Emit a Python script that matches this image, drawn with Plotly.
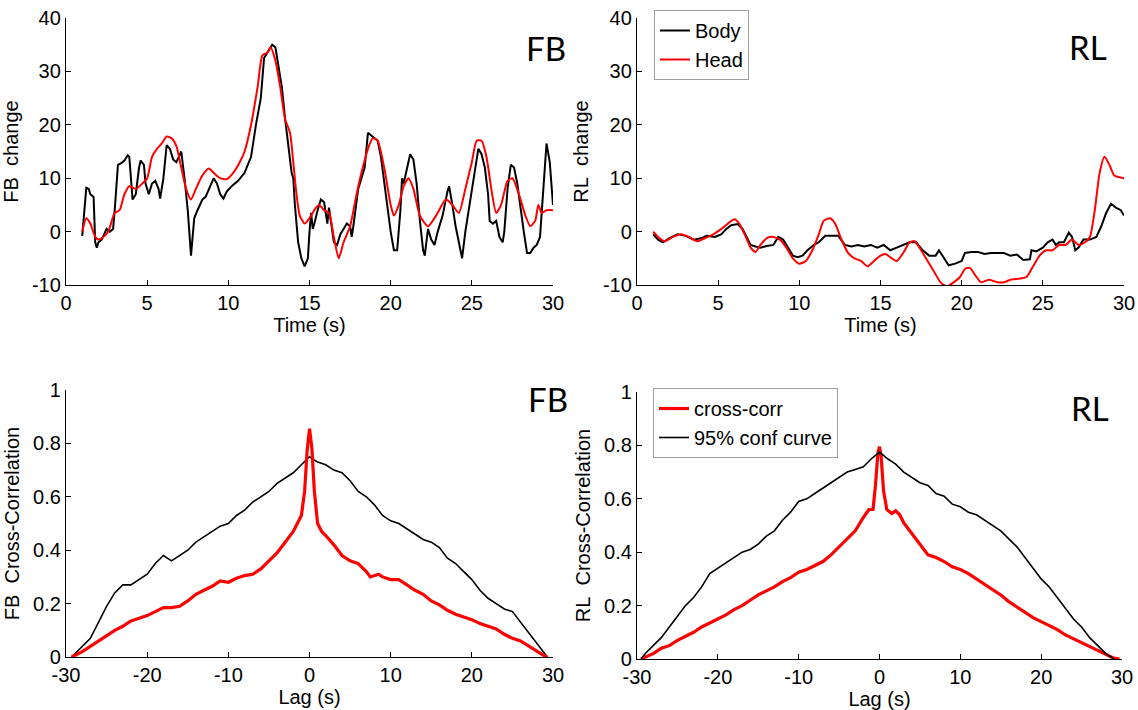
import plotly.graph_objects as go

# ---------------- data: FB (front-back) time series ----------------
fb_body_t = [1.0, 1.25, 1.4, 1.5, 1.7, 1.8, 1.9, 2.0, 2.2, 2.5, 2.7, 2.9, 3.0, 3.2, 3.4, 3.6, 3.8, 3.9, 4.0, 4.1,
             4.3, 4.5, 4.6, 4.8, 4.9, 5.1, 5.3, 5.5, 5.7, 5.8, 6.0, 6.2, 6.4, 6.6, 6.8, 7.0, 7.1, 7.3, 7.5, 7.7,
             7.8, 7.9, 8.1, 8.4, 8.6, 8.8, 9.0, 9.1, 9.3, 9.5, 9.7, 9.9, 10.2, 10.6, 11.0, 11.4, 11.7, 12.0, 12.2, 12.5,
             12.7, 12.9, 13.1, 13.3, 13.5, 13.7, 13.9, 14.0, 14.1, 14.3, 14.5, 14.7, 14.9, 15.0, 15.1, 15.2, 15.3, 15.5, 15.7, 15.9,
             16.0, 16.1, 16.2, 16.3, 16.5, 16.7, 16.9, 17.1, 17.3, 17.5, 17.6, 17.7, 18.0, 18.2, 18.4, 18.6, 18.8, 19.0, 19.2, 19.4,
             19.6, 19.8, 20.0, 20.2, 20.4, 20.6, 20.7, 20.8, 21.0, 21.2, 21.4, 21.6, 21.8, 21.9, 22.0, 22.1, 22.3, 22.5, 22.7, 22.9,
             23.2, 23.5, 23.6, 23.8, 24.0, 24.2, 24.4, 24.6, 24.9, 25.2, 25.4, 25.6, 25.8, 26.0, 26.1, 26.3, 26.5, 26.7, 26.9, 27.0,
             27.2, 27.4, 27.6, 27.8, 28.0, 28.2, 28.4, 28.6, 28.8, 29.0, 29.2, 29.4, 29.6, 29.8, 30.0]
fb_body_v = [-0.8, 8.2, 8.0, 7.0, 6.5, -2.0, -3.0, -2.0, -1.5, 0.5, 0.0, 0.5, 4.0, 12.5, 12.8, 13.3, 14.3, 14.0, 10.0, 6.0,
             7.0, 12.0, 13.3, 12.5, 9.0, 7.0, 9.0, 9.5, 8.0, 6.2, 10.0, 16.2, 15.5, 13.5, 13.0, 14.5, 15.0, 10.0, 4.0, -4.5,
             -1.0, 2.5, 4.0, 6.0, 6.5, 8.0, 9.5, 10.0, 9.0, 7.0, 6.2, 7.5, 8.5, 9.5, 11.0, 14.0, 20.0, 25.0, 32.5, 34.0,
             35.0, 34.5, 31.0, 27.0, 21.0, 16.0, 11.0, 10.0, 5.0, -2.0, -5.0, -6.5, -5.0, 0.0, 3.5, 0.5, 1.5, 4.0, 6.0, 5.5,
             3.5, 1.5, 4.5, 2.5, -2.0, -2.5, -0.5, 0.5, 1.5, 1.0, -1.0, 1.0, 8.0, 10.0, 12.0, 18.5, 18.0, 17.5, 17.0, 14.0,
             9.0, 4.0, 0.0, -3.5, -3.5, 4.0, 10.0, 9.0, 12.0, 14.5, 13.5, 9.0, 2.0, -1.0, -3.5, -4.5, 0.5, -1.5, -2.5, 0.0,
             3.0, 7.5, 8.5, 5.0, 1.0, -2.0, -5.0, 0.0, 6.0, 12.0, 15.5, 14.5, 12.0, 7.0, 2.0, 1.5, 2.0, -1.0, -2.0, 0.0,
             8.0, 12.5, 12.0, 9.0, 4.0, 0.0, -4.0, -4.0, -3.0, -2.5, -1.0, 8.0, 16.5, 13.0, 5.0]

fb_head_t = [1.0, 1.25, 1.5, 1.8, 2.0, 2.3, 2.6, 3.0, 3.3, 3.6, 3.9, 4.3, 4.7, 5.0, 5.3, 5.6, 5.9, 6.2, 6.5, 6.8,
             7.1, 7.4, 7.7, 8.0, 8.4, 8.8, 9.1, 9.5, 9.9, 10.3, 10.7, 11.0, 11.4, 11.8, 12.1, 12.4, 12.6, 12.9, 13.2, 13.5,
             13.8, 14.0, 14.2, 14.4, 14.7, 15.0, 15.4, 15.6, 15.9, 16.2, 16.5, 16.8, 17.1, 17.5, 17.9, 18.2, 18.6, 18.9, 19.2, 19.6,
             20.0, 20.2, 20.5, 20.8, 21.1, 21.4, 21.8, 22.3, 22.8, 23.4, 23.8, 24.2, 24.6, 25.0, 25.3, 25.6, 25.9, 26.2, 26.5, 26.8,
             27.2, 27.5, 27.9, 28.3, 28.6, 28.9, 29.1, 29.3, 29.6, 30.0]
fb_head_v = [0.0, 2.5, 1.5, -1.0, -1.5, -1.0, 0.0, 3.5, 4.0, 7.0, 8.5, 8.0, 9.0, 10.0, 14.0, 15.5, 16.5, 17.8, 17.5, 16.0,
             12.0, 8.0, 6.0, 8.0, 10.5, 11.8, 11.0, 10.0, 9.8, 11.0, 13.0, 15.0, 20.0, 27.0, 33.0, 33.5, 34.5, 32.0, 27.0, 21.0,
             18.5, 13.0, 7.0, 3.0, 1.5, 2.5, 4.5, 5.0, 4.0, 3.5, -1.0, -5.0, -2.0, 1.0, 7.0, 11.0, 15.5, 17.5, 17.0, 12.0,
             5.0, 3.0, 5.0, 8.5, 10.0, 8.0, 3.0, 1.0, 3.0, 6.0, 5.0, 3.5, 8.0, 13.0, 17.0, 17.0, 14.0, 8.0, 3.5, 5.0,
             9.5, 10.0, 7.0, 3.0, 1.0, 2.0, 5.0, 3.5, 4.0, 4.0]

# ---------------- data: RL (right-left) time series ----------------
rl_body_t = [1.0, 1.3, 1.6, 2.0, 2.5, 3.0, 3.5, 4.0, 4.3, 4.8, 5.2, 5.5, 5.8, 6.2, 6.5, 6.8, 7.0, 7.3, 7.6, 8.0,
             8.4, 8.7, 9.0, 9.3, 9.6, 9.9, 10.2, 10.5, 10.9, 11.2, 11.6, 12.0, 12.4, 12.8, 13.2, 13.6, 14.0, 14.4, 14.8, 15.2,
             15.6, 16.0, 16.4, 16.8, 17.2, 17.6, 18.0, 18.4, 18.6, 18.9, 19.2, 19.6, 20.0, 20.2, 20.6, 21.0, 21.4, 21.8, 22.2, 22.6,
             23.0, 23.4, 23.8, 24.2, 24.3, 24.6, 25.0, 25.3, 25.6, 25.8, 26.0, 26.3, 26.6, 26.8, 27.0, 27.2, 27.5, 27.9, 28.3, 28.6,
             28.9, 29.2, 29.5, 29.8, 30.0]
rl_body_v = [-0.5, -1.5, -2.0, -1.2, -0.5, -0.8, -1.5, -1.2, -0.8, -1.0, -0.5, 0.5, 1.2, 1.4, 0.5, -1.5, -2.5, -2.8, -3.0, -2.7,
             -2.5, -1.0, -1.5, -3.0, -4.5, -4.8, -4.5, -3.5, -2.5, -2.0, -0.8, -0.8, -0.8, -2.5, -2.8, -2.5, -2.8, -2.5, -3.0, -2.5,
             -3.5, -3.0, -2.5, -2.0, -2.0, -3.5, -4.5, -4.5, -3.5, -5.0, -6.3, -6.0, -5.5, -4.0, -3.8, -3.8, -4.2, -4.0, -4.0, -4.0,
             -4.5, -4.3, -5.3, -5.2, -3.5, -3.7, -3.0, -2.0, -1.5, -2.5, -2.0, -2.0, -0.2, -1.0, -3.5, -3.0, -1.5, -1.5, -1.0, 1.0,
             3.5, 5.2, 4.5, 4.0, 3.0]

rl_head_t = [1.0, 1.3, 1.7, 2.2, 2.7, 3.2, 3.7, 4.2, 4.7, 5.2, 5.6, 6.0, 6.3, 6.7, 7.0, 7.3, 7.6, 8.0, 8.4, 8.8,
             9.2, 9.6, 10.0, 10.4, 10.8, 11.2, 11.5, 11.9, 12.2, 12.6, 13.0, 13.4, 13.8, 14.2, 14.6, 15.0, 15.3, 15.7, 16.0, 16.4,
             16.8, 17.1, 17.5, 17.9, 18.3, 18.7, 19.1, 19.5, 19.9, 20.2, 20.5, 20.8, 21.2, 21.7, 22.2, 22.6, 23.0, 23.6, 24.0, 24.4,
             24.8, 25.2, 25.6, 26.0, 26.4, 26.8, 27.2, 27.6, 27.9, 28.2, 28.5, 28.8, 29.1, 29.4, 29.7, 30.0]
rl_head_v = [0.0, -1.0, -1.8, -1.0, -0.5, -1.0, -1.8, -1.2, -0.5, 0.5, 1.5, 2.3, 1.5, -1.0, -3.0, -3.8, -2.5, -1.2, -1.0, -1.5,
             -3.0, -5.0, -6.0, -5.5, -3.5, -0.5, 2.0, 2.5, 1.5, -1.5, -4.0, -5.0, -5.5, -6.5, -5.5, -4.5, -4.2, -5.0, -5.5, -4.0,
             -2.0, -1.8, -3.5, -5.5, -7.5, -9.5, -10.3, -9.5, -8.5, -7.0, -6.8, -8.0, -9.5, -9.0, -9.5, -9.5, -9.0, -8.8, -8.5, -6.5,
             -4.5, -3.5, -3.5, -2.5, -2.5, -1.5, -2.5, -2.0, -1.0, 4.0, 11.0, 14.0, 12.5, 10.5, 10.2, 10.0]

# ---------------- data: cross-correlations ----------------
fb_conf_lag = [-29.3, -28, -27, -26, -25, -24, -23, -22, -21, -20, -19, -18, -17, -16, -15, -14, -13, -12, -11, -10,
               -9, -8, -7, -6, -5, -4, -3, -2, -1, 0, 1, 2, 3, 4, 5, 6, 7, 8, 9, 10,
               11, 12, 13, 14, 15, 16, 17, 18, 19, 20, 21, 22, 23, 24, 25, 26, 27, 28, 29, 29.3]
fb_conf_val = [0.0, 0.04, 0.07, 0.13, 0.19, 0.24, 0.27, 0.27, 0.29, 0.31, 0.35, 0.38, 0.36, 0.38, 0.40, 0.43, 0.45, 0.47, 0.49, 0.50,
               0.53, 0.55, 0.58, 0.60, 0.62, 0.65, 0.67, 0.69, 0.72, 0.75, 0.73, 0.72, 0.70, 0.69, 0.66, 0.62, 0.60, 0.57, 0.53, 0.51,
               0.50, 0.48, 0.46, 0.44, 0.43, 0.41, 0.37, 0.35, 0.32, 0.29, 0.25, 0.22, 0.20, 0.18, 0.17, 0.13, 0.09, 0.05, 0.01, 0.0]

fb_xc_lag = [-29.3, -28, -27, -26, -25, -24, -23, -22, -21, -20, -19, -18, -17, -16, -15, -14, -13, -12, -11, -10,
             -9, -8, -7, -6, -5, -4, -3, -2, -1.5, -1, -0.6, -0.3, 0, 0.3, 0.6, 1, 1.5, 2, 3, 4,
             5, 6, 7, 7.5, 8.5, 9, 10, 11, 12, 13, 14, 15, 16, 17, 18, 19, 20, 21, 22, 23,
             24, 25, 26, 27, 28, 29, 29.3]
fb_xc_val = [0.0, 0.02, 0.04, 0.06, 0.08, 0.10, 0.115, 0.135, 0.145, 0.155, 0.17, 0.185, 0.185, 0.19, 0.21, 0.235, 0.25, 0.265, 0.285, 0.28,
             0.295, 0.305, 0.31, 0.33, 0.36, 0.39, 0.43, 0.47, 0.50, 0.53, 0.62, 0.77, 0.855, 0.78, 0.62, 0.50, 0.47, 0.455, 0.42, 0.38,
             0.36, 0.35, 0.32, 0.30, 0.31, 0.30, 0.29, 0.29, 0.27, 0.25, 0.235, 0.21, 0.195, 0.175, 0.16, 0.15, 0.14, 0.125, 0.115, 0.105,
             0.085, 0.07, 0.06, 0.04, 0.02, 0.003, 0.0]

rl_conf_lag = [-29.5, -29, -28, -27, -26, -25, -24, -23, -22, -21, -20, -19, -18, -17, -16, -15, -14, -13, -12, -11,
               -10, -9, -8, -7, -6, -5, -4, -3, -2, -1, 0, 1, 2, 3, 4, 5, 6, 7, 8, 9,
               10, 11, 12, 13, 14, 15, 16, 17, 18, 19, 20, 21, 22, 23, 24, 25, 26, 27, 28, 29]
rl_conf_val = [0.0, 0.02, 0.05, 0.08, 0.12, 0.16, 0.20, 0.23, 0.27, 0.32, 0.34, 0.36, 0.38, 0.40, 0.41, 0.43, 0.46, 0.48, 0.52, 0.55,
               0.59, 0.60, 0.62, 0.64, 0.66, 0.68, 0.70, 0.71, 0.72, 0.75, 0.775, 0.75, 0.73, 0.70, 0.68, 0.66, 0.65, 0.62, 0.61, 0.58,
               0.57, 0.55, 0.54, 0.52, 0.50, 0.48, 0.45, 0.42, 0.38, 0.34, 0.30, 0.27, 0.23, 0.19, 0.15, 0.12, 0.08, 0.05, 0.02, 0.0]

rl_xc_lag = [-29.5, -28, -27, -26, -25, -24, -23, -22, -21, -20, -19, -18, -17, -16, -15, -14, -13, -12, -11, -10,
             -9, -8, -7, -6, -5, -4, -3, -2, -1.3, -0.8, -0.5, -0.2, 0, 0.2, 0.5, 0.9, 1.5, 2, 2.5, 3,
             4, 5, 6, 7, 8, 9, 10, 11, 12, 13, 14, 15, 16, 17, 18, 19, 20, 21, 22, 23,
             24, 25, 26, 27, 28, 29, 29.7]
rl_xc_val = [0.0, 0.02, 0.04, 0.05, 0.07, 0.085, 0.10, 0.12, 0.135, 0.15, 0.165, 0.185, 0.20, 0.22, 0.24, 0.255, 0.27, 0.29, 0.305, 0.325,
             0.335, 0.35, 0.365, 0.39, 0.42, 0.45, 0.48, 0.53, 0.56, 0.56, 0.65, 0.77, 0.795, 0.76, 0.63, 0.56, 0.545, 0.555, 0.54, 0.51,
             0.47, 0.43, 0.39, 0.38, 0.365, 0.345, 0.335, 0.32, 0.30, 0.28, 0.26, 0.24, 0.215, 0.195, 0.175, 0.155, 0.14, 0.125, 0.11, 0.09,
             0.075, 0.06, 0.045, 0.03, 0.015, 0.003, 0.0]

# ---------------- tick labels (MATLAB style, plain hyphen minus) ----------------
time_ticks = [0, 5, 10, 15, 20, 25, 30]
time_labels = ["0", "5", "10", "15", "20", "25", "30"]
change_ticks = [-10, 0, 10, 20, 30, 40]
change_labels = ["-10", "0", "10", "20", "30", "40"]
lag_ticks = [-30, -20, -10, 0, 10, 20, 30]
lag_labels = ["-30", "-20", "-10", "0", "10", "20", "30"]
corr_ticks = [0, 0.2, 0.4, 0.6, 0.8, 1]
corr_labels = ["0", "0.2", "0.4", "0.6", "0.8", "1"]

# ---------------- figure ----------------
FONT = "Liberation Sans, Arial, sans-serif"
BLACK = "#000000"
RED = "#ff0000"
FS = 20

fig = go.Figure()

fig.add_trace(go.Scatter(x=fb_body_t, y=fb_body_v, mode="lines", line=dict(color=BLACK, width=2),
                         xaxis="x", yaxis="y", showlegend=False))
fig.add_trace(go.Scatter(x=fb_head_t, y=fb_head_v, mode="lines", line=dict(color=RED, width=2, shape="spline", smoothing=0.6),
                         xaxis="x", yaxis="y", showlegend=False))
fig.add_trace(go.Scatter(x=rl_body_t, y=rl_body_v, mode="lines", name="Body", line=dict(color=BLACK, width=2),
                         xaxis="x2", yaxis="y2", legend="legend"))
fig.add_trace(go.Scatter(x=rl_head_t, y=rl_head_v, mode="lines", name="Head", line=dict(color=RED, width=2, shape="spline", smoothing=0.6),
                         xaxis="x2", yaxis="y2", legend="legend"))
fig.add_trace(go.Scatter(x=fb_conf_lag, y=fb_conf_val, mode="lines", line=dict(color=BLACK, width=1.6),
                         xaxis="x3", yaxis="y3", showlegend=False))
fig.add_trace(go.Scatter(x=fb_xc_lag, y=fb_xc_val, mode="lines", line=dict(color=RED, width=3.2),
                         xaxis="x3", yaxis="y3", showlegend=False))
fig.add_trace(go.Scatter(x=rl_xc_lag, y=rl_xc_val, mode="lines", name="cross-corr", line=dict(color=RED, width=3.2),
                         xaxis="x4", yaxis="y4", legend="legend2"))
fig.add_trace(go.Scatter(x=rl_conf_lag, y=rl_conf_val, mode="lines", name="95% conf curve", line=dict(color=BLACK, width=1.6),
                         xaxis="x4", yaxis="y4", legend="legend2"))

W, H = 1138, 710
def xd(a, b):
    return [a / W, b / W]
def yd(top, bottom):
    return [1 - bottom / H, 1 - top / H]

axis_common = dict(showline=True, linecolor=BLACK, linewidth=1.3, ticks="inside", ticklen=5, tickcolor=BLACK,
                   showgrid=False, zeroline=False, tickfont=dict(family=FONT, size=FS, color=BLACK),
                   mirror=False, automargin=False)
title_font = dict(family=FONT, size=FS, color=BLACK)
NB = "\u00a0\u00a0"

def xa(dom, anchor, rng, tv, tt, title):
    return dict(domain=dom, anchor=anchor, range=rng, tickmode="array", tickvals=tv, ticktext=tt,
                title=dict(text=title, font=title_font, standoff=0), **axis_common)

def ya(dom, anchor, rng, tv, tt, title):
    return dict(domain=dom, anchor=anchor, range=rng, tickmode="array", tickvals=tv, ticktext=tt,
                title=dict(text=title, font=title_font, standoff=8), **axis_common)

layout = dict(
    width=W, height=H, margin=dict(l=0, r=0, t=0, b=0),
    paper_bgcolor="white", plot_bgcolor="white",
    xaxis=xa(xd(66, 553), "y", [0, 30], time_ticks, time_labels, "Time (s)"),
    yaxis=ya(yd(18, 285), "x", [-10, 40], change_ticks, change_labels, "FB" + NB + "change"),
    xaxis2=xa(xd(637, 1124), "y2", [0, 30], time_ticks, time_labels, "Time (s)"),
    yaxis2=ya(yd(18, 285), "x2", [-10, 40], change_ticks, change_labels, "RL" + NB + "change"),
    xaxis3=xa(xd(66, 553), "y3", [-30, 30], lag_ticks, lag_labels, "Lag (s)"),
    yaxis3=ya(yd(390, 657), "x3", [0, 1], corr_ticks, corr_labels, "FB" + NB + "Cross-Correlation"),
    xaxis4=xa(xd(637, 1122), "y4", [-30, 30], lag_ticks, lag_labels, "Lag (s)"),
    yaxis4=ya(yd(392, 659), "x4", [0, 1], corr_ticks, corr_labels, "RL" + NB + "Cross-Correlation"),
    legend=dict(x=654 / W, y=1 - 10 / H, xanchor="left", yanchor="top", bgcolor="white",
                bordercolor="#a0a0a0", borderwidth=1, font=dict(family=FONT, size=FS, color=BLACK),
                tracegroupgap=0, itemwidth=30),
    legend2=dict(x=653 / W, y=1 - 388 / H, xanchor="left", yanchor="top", bgcolor="white",
                 bordercolor="#a0a0a0", borderwidth=1, font=dict(family=FONT, size=FS, color=BLACK),
                 tracegroupgap=0, itemwidth=30),
    showlegend=True,
)
fig.update_layout(**layout)

panel_font = dict(family="Lato, Open Sans, sans-serif", size=33, color=BLACK)
for txt, cx, cy in [("FB", 546, 48), ("RL", 1088, 47), ("FB", 548, 399), ("RL", 1090, 408)]:
    fig.add_annotation(text=txt, x=cx / W, y=1 - cy / H, xref="paper", yref="paper",
                       xanchor="center", yanchor="middle", showarrow=False, font=panel_font)

fig.write_html("out.html")
